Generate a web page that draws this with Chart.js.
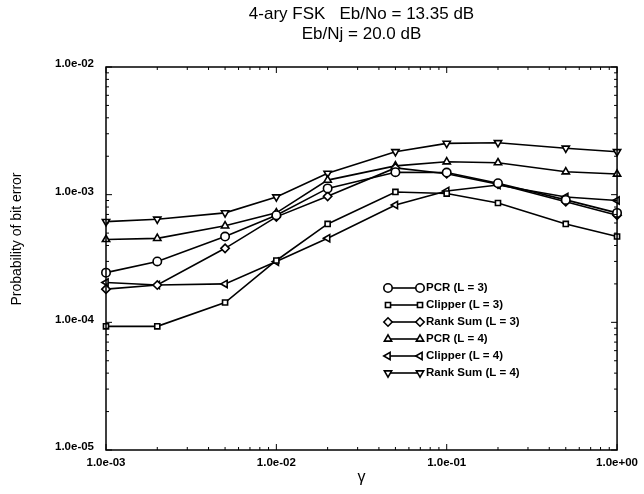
<!DOCTYPE html>
<html>
<head>
<meta charset="utf-8">
<script src="https://cdn.jsdelivr.net/npm/chart.js@4.4.0/dist/chart.umd.min.js"></script>
<style>
  html, body { margin: 0; padding: 0; background: #fff; }
  #wrap { width: 644px; height: 494px; }
</style>
</head>
<body>
<div id="wrap"><canvas id="chart" width="644" height="494"></canvas></div>
<script>
// gamma values on the x axis
const gammaValues = [0.001, 0.002, 0.005, 0.01, 0.02, 0.05, 0.1, 0.2, 0.5, 1];

// probability of bit error
const pcrL3     = [2.45e-4, 3.0e-4, 4.7e-4, 6.9e-4, 1.12e-3, 1.5e-3, 1.49e-3, 1.23e-3, 9.1e-4, 7.2e-4];
const clipperL3 = [9.3e-5, 9.3e-5, 1.43e-4, 3.05e-4, 5.9e-4, 1.05e-3, 1.02e-3, 8.6e-4, 5.9e-4, 4.7e-4];
const rankSumL3 = [1.82e-4, 1.96e-4, 3.8e-4, 6.7e-4, 9.7e-4, 1.62e-3, 1.46e-3, 1.21e-3, 8.8e-4, 6.9e-4];
const pcrL4     = [4.46e-4, 4.55e-4, 5.7e-4, 7.2e-4, 1.3e-3, 1.68e-3, 1.81e-3, 1.78e-3, 1.51e-3, 1.45e-3];
const clipperL4 = [2.05e-4, 1.96e-4, 2.0e-4, 2.99e-4, 4.56e-4, 8.3e-4, 1.07e-3, 1.19e-3, 9.6e-4, 9.0e-4];
const rankSumL4 = [6.15e-4, 6.42e-4, 7.2e-4, 9.6e-4, 1.47e-3, 2.17e-3, 2.52e-3, 2.55e-3, 2.31e-3, 2.17e-3];

const seriesNames = ["PCR (L = 3)", "Clipper (L = 3)", "Rank Sum (L = 3)",
                     "PCR (L = 4)", "Clipper (L = 4)", "Rank Sum (L = 4)"];
const seriesValues = [pcrL3, clipperL3, rankSumL3, pcrL4, clipperL4, rankSumL4];

const xTickValues = [1e-3, 1e-2, 1e-1, 1];
const xTickLabels = ["1.0e-03", "1.0e-02", "1.0e-01", "1.0e+00"];
const yTickValues = [1e-5, 1e-4, 1e-3, 1e-2];
const yTickLabels = ["1.0e-05", "1.0e-04", "1.0e-03", "1.0e-02"];

const titleLines = ["4-ary FSK   Eb/No = 13.35 dB", "Eb/Nj = 20.0 dB"];
const xTitle = "\u03b3";
const yTitle = "Probability of bit error";

// marker look per series
const markers = [
  { style: "circle",   rot: 0 },
  { style: "rect",     rot: 0 },
  { style: "rectRot",  rot: 0 },
  { style: "triangle", rot: 0 },
  { style: "triangle", rot: -90 },
  { style: "triangle", rot: 180 }
];

const FONT = "'Liberation Sans', Arial, Helvetica, sans-serif";

const datasets = seriesValues.map((vals, i) => ({
  label: seriesNames[i],
  data: vals.map((v, j) => ({ x: gammaValues[j], y: v })),
  borderColor: "#000",
  borderWidth: 1.6,
  backgroundColor: "#fff",
  pointStyle: markers[i].style,
  pointRotation: markers[i].rot,
  pointRadius: markers[i].style === "rect" ? 3.6 : 4.2,
  pointBorderWidth: 1.6,
  pointBackgroundColor: "#fff",
  pointBorderColor: "#000",
  tension: 0,
  clip: false
}));

// frame, inward ticks, titles, legend
const decor = {
  id: "decor",
  afterDraw(chart) {
    const ctx = chart.ctx;
    const a = chart.chartArea;
    const xs = chart.scales.x, ys = chart.scales.y;
    ctx.save();
    ctx.strokeStyle = "#000";
    ctx.lineWidth = 1.5;
    ctx.strokeRect(a.left, a.top, a.right - a.left, a.bottom - a.top);

    ctx.lineWidth = 1;
    ctx.beginPath();
    for (let d = -3; d <= 0; d++) {
      for (let k = 1; k <= 9; k++) {
        const v = k * Math.pow(10, d);
        if (v > 1.0001) break;
        const px = xs.getPixelForValue(v);
        const len = k === 1 ? 6 : 3;
        ctx.moveTo(px, a.bottom); ctx.lineTo(px, a.bottom - len);
        ctx.moveTo(px, a.top); ctx.lineTo(px, a.top + len);
      }
    }
    for (let d = -5; d <= -2; d++) {
      for (let k = 1; k <= 9; k++) {
        const v = k * Math.pow(10, d);
        if (v > 1.0001e-2) break;
        const py = ys.getPixelForValue(v);
        const len = k === 1 ? 6 : 3;
        ctx.moveTo(a.left, py); ctx.lineTo(a.left + len, py);
        ctx.moveTo(a.right, py); ctx.lineTo(a.right - len, py);
      }
    }
    ctx.stroke();

    // title
    const cx = (a.left + a.right) / 2;
    ctx.fillStyle = "#000";
    ctx.textAlign = "center";
    ctx.textBaseline = "middle";
    ctx.font = "17px " + FONT;
    ctx.fillText(titleLines[0], cx, 14);
    ctx.fillText(titleLines[1], cx, 34);

    // axis titles
    ctx.font = "16px " + FONT;
    ctx.fillText(xTitle, cx, 478);
    ctx.save();
    ctx.translate(17, 239);
    ctx.rotate(-Math.PI / 2);
    ctx.font = "14px " + FONT;
    ctx.fillText(yTitle, 0, 0);
    ctx.restore();

    // legend
    const x1 = 388, x2 = 420, tx = 426;
    ctx.font = "bold 11.5px " + FONT;
    ctx.textAlign = "left";
    seriesNames.forEach((name, i) => {
      const y = 288 + i * 17;
      ctx.lineWidth = 1.6;
      ctx.beginPath();
      ctx.moveTo(x1, y); ctx.lineTo(x2, y);
      ctx.stroke();
      ctx.fillStyle = "#fff";
      const opts = { pointStyle: markers[i].style, rotation: markers[i].rot,
                     radius: markers[i].style === "rect" ? 3.6 : 4.2, borderWidth: 1.6 };
      Chart.helpers.drawPoint(ctx, opts, x1, y);
      Chart.helpers.drawPoint(ctx, opts, x2, y);
      ctx.fillStyle = "#000";
      ctx.fillText(name, tx, y);
    });
    ctx.restore();
  }
};

new Chart(document.getElementById("chart"), {
  type: "line",
  data: { datasets },
  options: {
    responsive: false,
    animation: false,
    layout: { padding: { top: 67, right: 23, left: 0, bottom: 0 } },
    plugins: { legend: { display: false }, tooltip: { enabled: false }, title: { display: false } },
    scales: {
      x: {
        type: "logarithmic",
        min: 1e-3, max: 1,
        afterBuildTicks: s => { s.ticks = xTickValues.map(v => ({ value: v })); },
        afterFit: s => { s.height = 44; },
        grid: { display: false, drawTicks: false },
        border: { display: false },
        ticks: {
          autoSkip: false, maxRotation: 0, padding: 6, color: "#000",
          font: { family: FONT, size: 11.5, weight: "bold" },
          callback: v => xTickLabels[xTickValues.indexOf(v)]
        }
      },
      y: {
        type: "logarithmic",
        min: 1e-5, max: 1e-2,
        afterBuildTicks: s => { s.ticks = yTickValues.map(v => ({ value: v })); },
        afterFit: s => { s.width = 106; },
        grid: { display: false, drawTicks: false },
        border: { display: false },
        ticks: {
          autoSkip: false, padding: 12, color: "#000", labelOffset: -3,
          font: { family: FONT, size: 11.5, weight: "bold" },
          callback: v => yTickLabels[yTickValues.indexOf(v)]
        }
      }
    }
  },
  plugins: [decor]
});
</script>
</body>
</html>
